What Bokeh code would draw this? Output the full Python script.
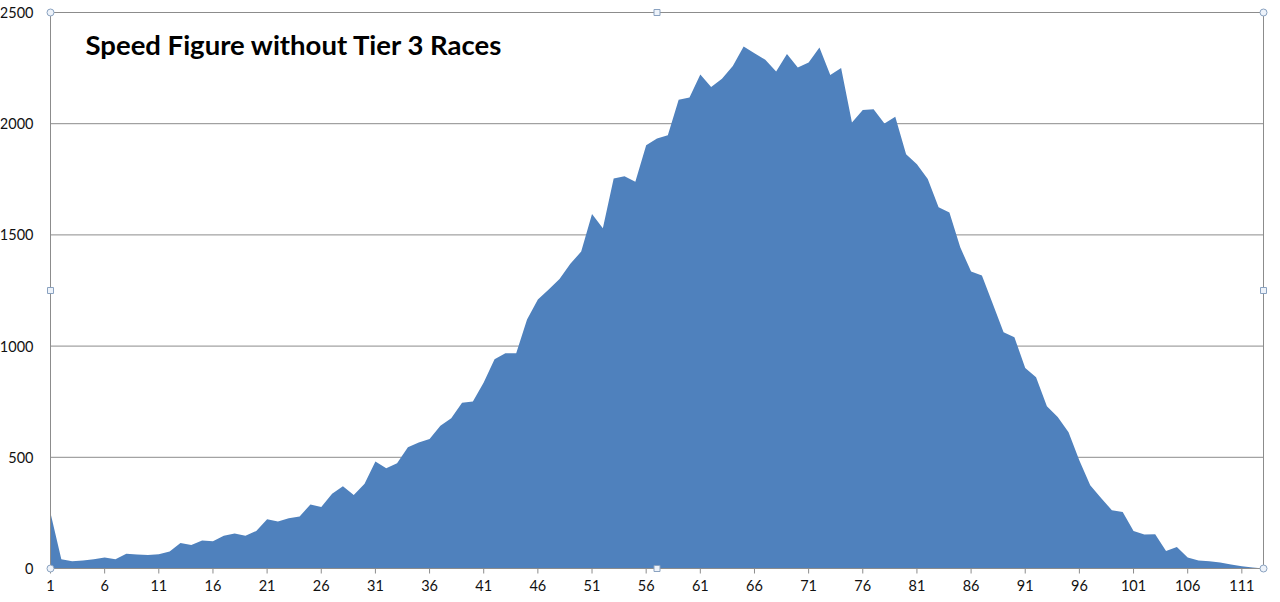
from bokeh.plotting import figure
from bokeh.models import Range1d
from bokeh.core.properties import value
from bokeh.embed import file_html
from bokeh.resources import INLINE

# Data: count per speed figure category
categories = list(range(1, 114))
counts = [
    250, 42, 33, 36, 42, 49, 42, 66, 63, 61,
    64, 76, 115, 106, 126, 123, 147, 157, 147, 169,
    222, 211, 226, 234, 288, 276, 336, 370, 331, 381,
    481, 451, 473, 545, 567, 582, 642, 676, 745, 751,
    836, 941, 968, 968, 1120, 1209, 1254, 1302, 1370, 1425,
    1594, 1530, 1754, 1764, 1739, 1903, 1933, 1948, 2108, 2118,
    2221, 2165, 2202, 2260, 2347, 2317, 2287, 2235, 2313, 2253,
    2275, 2343, 2219, 2250, 2005, 2062, 2065, 2001, 2031, 1863,
    1818, 1751, 1624, 1601, 1444, 1335, 1317, 1190, 1062, 1040,
    901, 860, 729, 681, 613, 486, 374, 317, 262, 254,
    169, 153, 154, 79, 97, 49, 36, 33, 27, 18,
    10, 4, 0,
]
x_ticks = list(range(1, 112, 5))
x_labels = [str(t) for t in x_ticks]
y_ticks = [0, 500, 1000, 1500, 2000, 2500]
y_labels = [str(t) for t in y_ticks]
title_text = "Speed Figure without Tier 3 Races"

W, H = 1272, 594
# pixel geometry of the plot area inside the figure
left_px, right_px = 50, 1263
top_px, bottom_px = 12, 568
x_first, x_last = categories[0], categories[-1]
y_top = y_ticks[-1]

xs = (right_px - left_px) / (x_last - x_first)   # px per category
ys = (bottom_px - top_px) / y_top                # px per unit

x0 = x_first - left_px / xs
x1 = x_last + (W - right_px) / xs
y0 = -(H - bottom_px) / ys
y1 = y_top + top_px / ys

p = figure(width=W, height=H, output_backend="svg", toolbar_location=None,
           x_range=Range1d(x0, x1), y_range=Range1d(y0, y1),
           x_axis_location=None, y_axis_location=None,
           min_border=0, outline_line_color=None)
p.grid.visible = False

grid_color = "#8c8c8c"
# horizontal gridlines
p.segment(x0=[x_first] * len(y_ticks), x1=[x_last] * len(y_ticks),
          y0=y_ticks, y1=y_ticks, line_color=grid_color, line_width=1)

# area
p.varea(x=categories, y1=[0] * len(categories), y2=counts,
        fill_color="#4f81bd")

# axis lines and frame sides
p.segment(x0=[x_first, x_last], x1=[x_first, x_last], y0=[0, 0],
          y1=[y_top, y_top], line_color=grid_color, line_width=1)
p.segment(x0=[x_first], x1=[x_last], y0=[0], y1=[0],
          line_color=grid_color, line_width=1)

# x tick marks
tick_len = 5 / ys
p.segment(x0=x_ticks, x1=x_ticks, y0=[0] * len(x_ticks),
          y1=[-tick_len] * len(x_ticks), line_color=grid_color, line_width=1)

# tick labels
p.text(x=x_ticks, y=[-17 / ys] * len(x_ticks), text=x_labels,
       text_font=value("Lato"), text_font_size="14.5px", text_color="#111111",
       text_align="center", text_baseline="middle")
p.text(x=[x_first - 17 / xs] * len(y_ticks), y=y_ticks, text=y_labels,
       text_font=value("Lato"), text_font_size="14.5px", text_color="#111111",
       text_align="right", text_baseline="middle")

# title inside plot
p.text(x=[x_first + 35 / xs], y=[y_top - 32 / ys], text=[title_text],
       text_font=value("Lato"), text_font_size="27.5px", text_font_style="bold",
       text_color="#000000", text_align="left", text_baseline="alphabetic")

# selection handles
mid_x = (x_first + x_last) / 2
p.scatter(x=[x_first, x_last, x_first, x_last], y=[0, 0, y_top, y_top],
          marker="circle", size=7, fill_color="#eef3fa", line_color="#8aa2c0")
p.scatter(x=[mid_x, mid_x, x_first, x_last], y=[0, y_top, y_top / 2, y_top / 2],
          marker="square", size=6, fill_color="#eef3fa", line_color="#8aa2c0")

open("out.html", "w").write(file_html(p, INLINE))
